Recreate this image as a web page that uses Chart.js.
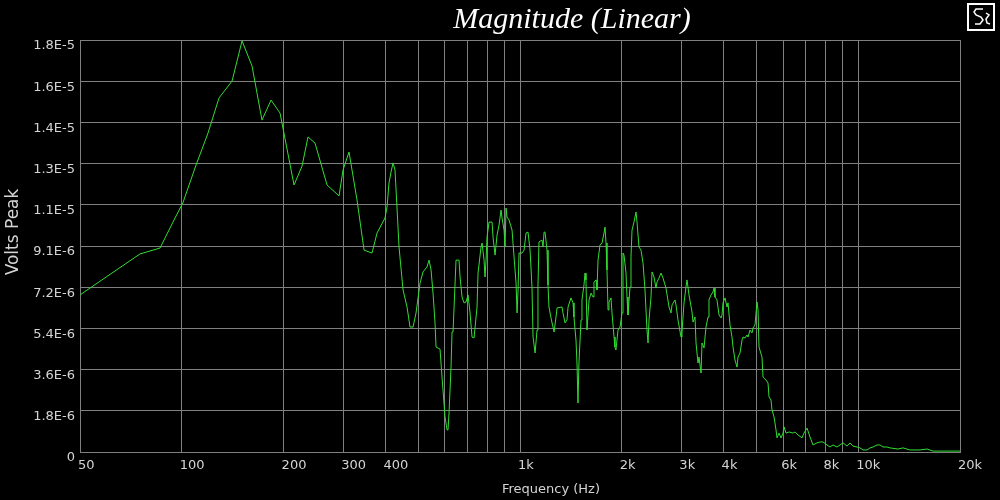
<!DOCTYPE html>
<html>
<head>
<meta charset="utf-8">
<title>Magnitude (Linear)</title>
<script src="https://cdn.jsdelivr.net/npm/chart.js@4.4.1/dist/chart.umd.min.js"></script>
<style>
  html, body { margin: 0; padding: 0; background: #000; }
  #chart { display: block; background: #000; }
</style>
</head>
<body>
<canvas id="chart" width="1000" height="500"></canvas>
<script>
// Frequências (Hz)
const freqHz = [
  50, 53.5, 75.2, 86.2, 95.5, 100.7, 110.2, 119.5, 128.8, 140.8,
  150.7, 161.3, 172.6, 183.6, 195.2, 214.7, 226.7, 236.1, 247.7, 268.8,
  291.7, 299.7, 312.2, 329.7, 345.8, 365.1, 377.8, 398.9, 404.4, 409.9,
  415.6, 421.3, 427.0, 432.9, 438.8, 451.0, 463.4, 473.0, 482.7, 492.7,
  506.3, 516.7, 531.0, 538.3, 545.7, 553.2, 560.7, 564.6, 580.2, 588.1,
  600.3, 608.5, 612.6, 616.8, 625.3, 629.6, 633.9, 646.9, 660.3, 664.8,
  673.9, 683.2, 692.5, 702.0, 711.7, 721.4, 731.3, 746.4, 751.5, 767.0,
  772.3, 782.8, 788.2, 793.6, 799.0, 809.9, 826.7, 832.3, 843.7, 855.3,
  867.0, 878.9, 884.9, 897.1, 903.2, 909.4, 915.6, 928.1, 947.3, 960.3,
  973.4, 980.1, 986.8, 993.5, 1014, 1028, 1042, 1056, 1071, 1085,
  1093, 1108, 1123, 1130, 1138, 1162, 1170, 1178, 1186, 1202,
  1210, 1218, 1235, 1243, 1261, 1278, 1287, 1331, 1340, 1359,
  1377, 1387, 1415, 1435, 1444, 1464, 1474, 1484, 1494, 1515,
  1525, 1546, 1557, 1567, 1578, 1600, 1622, 1644, 1655, 1678,
  1689, 1701, 1724, 1748, 1772, 1784, 1796, 1808, 1821, 1833,
  1858, 1871, 1897, 1909, 1922, 1949, 1976, 2003, 2016, 2030,
  2058, 2072, 2086, 2115, 2129, 2144, 2173, 2203, 2218, 2248,
  2279, 2311, 2342, 2374, 2391, 2407, 2440, 2457, 2490, 2524,
  2542, 2576, 2612, 2648, 2702, 2758, 2796, 2815, 2873, 2893,
  2932, 2993, 3013, 3055, 3096, 3118, 3160, 3226, 3248, 3292,
  3315, 3360, 3383, 3430, 3453, 3500, 3548, 3597, 3621, 3671,
  3721, 3747, 3772, 3824, 3877, 3930, 3957, 3984, 4038, 4094,
  4122, 4178, 4235, 4264, 4323, 4382, 4412, 4473, 4534, 4565,
  4627, 4691, 4723, 4788, 4853, 4887, 4954, 5021, 5056, 5090,
  5195, 5231, 5339, 5412, 5449, 5524, 5561, 5638, 5715, 5754,
  5833, 5913, 5994, 6035, 6118, 6244, 6416, 6504, 6638, 6822,
  6915, 7058, 7204, 7352, 7555, 7711, 7870, 8088, 8255, 8425,
  8658, 8836, 9019, 9268, 9459, 9654, 9921, 10125, 10334, 10619,
  10839, 11063, 11368, 11602, 11841, 12168, 12420, 13115, 13569, 14232,
  15235, 15979, 16644, 18309, 20000
];

// Amplitude (Volts Peak) em cada frequência
const voltsPeak = [
  6.90e-6, 7.20e-6, 8.70e-6, 8.96e-6, 10.28e-6, 10.94e-6, 12.61e-6, 14.01e-6, 15.55e-6, 16.30e-6,
  18.06e-6, 16.96e-6, 14.58e-6, 15.46e-6, 14.89e-6, 11.73e-6, 12.56e-6, 13.84e-6, 13.57e-6, 11.73e-6,
  11.25e-6, 12.39e-6, 13.18e-6, 11.07e-6, 8.87e-6, 8.74e-6, 9.62e-6, 10.28e-6, 10.76e-6, 11.82e-6,
  12.30e-6, 12.70e-6, 12.39e-6, 10.72e-6, 9.01e-6, 7.12e-6, 6.37e-6, 5.49e-6, 5.49e-6, 6.11e-6,
  7.42e-6, 7.91e-6, 8.13e-6, 8.43e-6, 8.00e-6, 6.98e-6, 5.67e-6, 4.61e-6, 4.52e-6, 3.29e-6,
  1.54e-6, 0.97e-6, 0.97e-6, 1.71e-6, 3.73e-6, 5.27e-6, 5.27e-6, 8.43e-6, 8.43e-6, 7.69e-6,
  6.81e-6, 6.55e-6, 6.59e-6, 6.90e-6, 6.11e-6, 5.05e-6, 5.01e-6, 6.37e-6, 7.86e-6, 9.01e-6,
  9.18e-6, 8.43e-6, 7.69e-6, 8.43e-6, 9.44e-6, 10.10e-6, 10.10e-6, 9.44e-6, 8.65e-6, 9.53e-6,
  9.97e-6, 10.63e-6, 10.28e-6, 9.75e-6, 9.01e-6, 10.72e-6, 10.32e-6, 10.19e-6, 9.75e-6, 8.57e-6,
  7.42e-6, 6.11e-6, 7.12e-6, 8.74e-6, 8.74e-6, 8.87e-6, 9.62e-6, 9.66e-6, 8.87e-6, 7.25e-6,
  5.05e-6, 4.35e-6, 5.36e-6, 7.25e-6, 9.23e-6, 9.31e-6, 9.01e-6, 9.66e-6, 9.66e-6, 8.87e-6,
  7.34e-6, 6.37e-6, 5.89e-6, 5.89e-6, 5.27e-6, 5.93e-6, 6.33e-6, 6.37e-6, 6.11e-6, 5.67e-6,
  5.80e-6, 6.37e-6, 6.77e-6, 6.55e-6, 5.93e-6, 4.92e-6, 3.91e-6, 2.15e-6, 3.91e-6, 5.80e-6,
  6.68e-6, 7.34e-6, 7.86e-6, 7.56e-6, 5.36e-6, 6.68e-6, 6.98e-6, 6.81e-6, 7.47e-6, 7.56e-6,
  7.12e-6, 8.43e-6, 9.09e-6, 9.18e-6, 9.62e-6, 9.88e-6, 9.18e-6, 8.00e-6, 6.24e-6, 6.59e-6,
  6.77e-6, 6.11e-6, 5.05e-6, 4.61e-6, 4.48e-6, 5.36e-6, 5.49e-6, 6.11e-6, 8.74e-6, 8.65e-6,
  7.86e-6, 6.81e-6, 6.02e-6, 7.25e-6, 8.57e-6, 9.75e-6, 10.10e-6, 10.54e-6, 10.10e-6, 9.01e-6,
  8.87e-6, 8.30e-6, 7.12e-6, 5.36e-6, 4.79e-6, 5.80e-6, 6.81e-6, 7.91e-6, 7.69e-6, 7.20e-6,
  7.47e-6, 7.64e-6, 7.86e-6, 7.64e-6, 7.20e-6, 6.37e-6, 6.11e-6, 6.46e-6, 6.68e-6, 6.46e-6,
  5.80e-6, 5.05e-6, 5.27e-6, 6.55e-6, 7.25e-6, 7.56e-6, 6.90e-6, 6.15e-6, 5.71e-6, 5.93e-6,
  4.79e-6, 3.91e-6, 4.17e-6, 3.47e-6, 4.79e-6, 4.57e-6, 5.49e-6, 5.93e-6, 6.68e-6, 6.90e-6,
  7.03e-6, 7.20e-6, 6.81e-6, 6.68e-6, 6.02e-6, 5.89e-6, 6.02e-6, 6.55e-6, 6.77e-6, 6.37e-6,
  6.55e-6, 5.58e-6, 5.05e-6, 4.61e-6, 4.04e-6, 3.73e-6, 4.17e-6, 4.35e-6, 4.92e-6, 5.05e-6,
  5.01e-6, 5.14e-6, 5.05e-6, 5.36e-6, 5.23e-6, 5.45e-6, 5.58e-6, 6.59e-6, 6.24e-6, 4.61e-6,
  4.17e-6, 3.29e-6, 3.16e-6, 3.03e-6, 2.42e-6, 2.28e-6, 1.85e-6, 1.54e-6, 0.97e-6, 0.62e-6,
  0.83e-6, 0.62e-6, 0.83e-6, 1.10e-6, 0.83e-6, 0.88e-6, 0.83e-6, 0.88e-6, 0.75e-6, 0.62e-6,
  0.83e-6, 1.05e-6, 0.66e-6, 0.31e-6, 0.40e-6, 0.44e-6, 0.44e-6, 0.31e-6, 0.22e-6, 0.31e-6,
  0.22e-6, 0.31e-6, 0.40e-6, 0.26e-6, 0.40e-6, 0.26e-6, 0.22e-6, 0.18e-6, 0.09e-6, 0.09e-6,
  0.18e-6, 0.22e-6, 0.31e-6, 0.31e-6, 0.22e-6, 0.22e-6, 0.18e-6, 0.13e-6, 0.18e-6, 0.09e-6,
  0.09e-6, 0.13e-6, 0.04e-6, 0.04e-6, 0.04e-6
];

// Ticks do eixo X (linhas de grade) e rótulos exibidos
const xTickValues = [50, 100, 200, 300, 400, 500, 600, 700, 800, 900,
  1000, 2000, 3000, 4000, 5000, 6000, 7000, 8000, 9000, 10000, 20000];
const xTickLabels = {50: '50', 100: '100', 200: '200', 300: '300', 400: '400',
  1000: '1k', 2000: '2k', 3000: '3k', 4000: '4k', 6000: '6k', 8000: '8k',
  10000: '10k', 20000: '20k'};

// Ticks do eixo Y
const yTickValues = [0, 1.81e-6, 3.62e-6, 5.43e-6, 7.24e-6, 9.05e-6,
  1.086e-5, 1.267e-5, 1.448e-5, 1.629e-5, 1.81e-5];
const yTickLabels = ['0', '1.8E-6', '3.6E-6', '5.4E-6', '7.2E-6', '9.1E-6',
  '1.1E-5', '1.3E-5', '1.4E-5', '1.6E-5', '1.8E-5'];

const gridColor = '#808080';
const textColor = '#d4d4d4';

Chart.defaults.font.family = "'DejaVu Sans', sans-serif";
Chart.defaults.font.size = 13;
Chart.defaults.color = textColor;

// Título, nomes dos eixos e ícone
const titlePlugin = {
  id: 'titlePlugin',
  afterDraw(chart) {
    const ctx = chart.ctx;
    ctx.save();
    ctx.fillStyle = '#ffffff';
    ctx.font = "italic 30px 'Liberation Serif', serif";
    ctx.textAlign = 'center';
    ctx.textBaseline = 'middle';
    ctx.fillText('Magnitude (Linear)', 572, 20);

    ctx.fillStyle = textColor;
    ctx.font = "13px 'DejaVu Sans', sans-serif";
    ctx.fillText('Frequency (Hz)', 551, 490);

    ctx.save();
    ctx.translate(14, 232);
    ctx.rotate(-Math.PI / 2);
    ctx.font = "17px 'DejaVu Sans', sans-serif";
    ctx.fillText('Volts Peak', 0, 0);
    ctx.restore();

    // ícone no canto
    ctx.strokeStyle = '#ffffff';
    ctx.lineWidth = 2;
    ctx.strokeRect(968, 4, 26, 26);
    ctx.lineWidth = 1.5;
    ctx.beginPath();
    ctx.moveTo(983, 9); ctx.lineTo(976, 9); ctx.lineTo(974, 12); ctx.lineTo(976, 15);
    ctx.lineTo(981, 17); ctx.lineTo(983, 20); ctx.lineTo(980, 24); ctx.lineTo(975, 24);
    ctx.moveTo(986, 13); ctx.lineTo(989, 15); ctx.lineTo(986, 19); ctx.lineTo(987, 23); ctx.lineTo(990, 24);
    ctx.stroke();
    ctx.restore();
  }
};

const points = freqHz.map((f, i) => ({ x: f, y: voltsPeak[i] }));

new Chart(document.getElementById('chart'), {
  type: 'line',
  data: {
    datasets: [{
      label: 'Magnitude',
      data: points,
      borderColor: '#33dd33',
      borderWidth: 1,
      pointRadius: 0,
      tension: 0,
      fill: false
    }]
  },
  options: {
    responsive: false,
    animation: false,
    parsing: false,
    layout: {
      padding: { top: 40, right: 40, left: 0, bottom: 0 }
    },
    plugins: {
      legend: { display: false },
      title: { display: false },
      tooltip: { enabled: false }
    },
    scales: {
      x: {
        type: 'logarithmic',
        min: 50,
        max: 20000,
        afterBuildTicks: scale => {
          scale.ticks = xTickValues.map(v => ({ value: v }));
        },
        afterFit: scale => { scale.height = 48; },
        ticks: {
          autoSkip: false,
          maxRotation: 0,
          align: 'start',
          labelOffset: -2,
          padding: 6,
          color: textColor,
          callback: value => xTickLabels[value] || ''
        },
        grid: { color: gridColor, lineWidth: 1, drawTicks: false },
        border: { color: gridColor }
      },
      y: {
        min: 0,
        max: 1.81e-5,
        afterBuildTicks: scale => {
          scale.ticks = yTickValues.map(v => ({ value: v }));
        },
        afterFit: scale => { scale.width = 80; },
        ticks: {
          autoSkip: false,
          padding: 5,
          labelOffset: 6,
          color: textColor,
          callback: (value, index) => yTickLabels[index]
        },
        grid: { color: gridColor, lineWidth: 1, drawTicks: false },
        border: { color: gridColor }
      }
    }
  },
  plugins: [titlePlugin]
});
</script>
</body>
</html>
